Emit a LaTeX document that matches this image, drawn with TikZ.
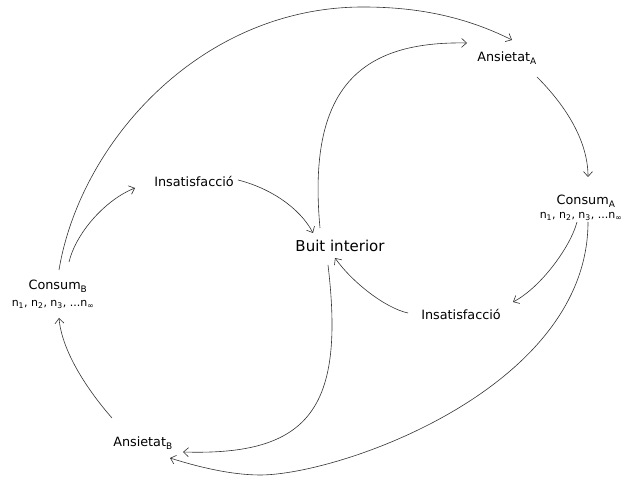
\documentclass[tikz,border=0pt]{standalone}
\usepackage{fontspec}
\setmainfont{DejaVu Sans}
\usetikzlibrary{arrows.meta}
\begin{document}
\begin{tikzpicture}[x=1pt,y=1pt,
  lbl/.style={anchor=base, inner sep=0pt, font=\fontsize{12.8}{15}\selectfont},
  nline/.style={anchor=base, inner sep=0pt, font=\fontsize{11}{13}\selectfont},
  big/.style={anchor=base, inner sep=0pt, font=\fontsize{15}{18}\selectfont},
  conn/.style={line width=0.6pt, draw=black!80, -{Straight Barb[length=5pt,width=9pt]}}]
\fill[white] (0,0) rectangle (626,478);
\useasboundingbox (0,0) rectangle (626,478);
% nodes
\node[lbl] (AA) at (507,416) {Ansietat\textsubscript{A}};
\node[lbl] (CA) at (586,273) {Consum\textsubscript{A}};
\node[nline] (CAn) at (581,259) {n\textsubscript{1}, n\textsubscript{2}, n\textsubscript{3}, ...n\textsubscript{∞}};
\node[lbl] (IR) at (461,158) {Insatisfacció};
\node[big] (BI) at (340,226) {Buit interior};
\node[lbl] (IL) at (194,291) {Insatisfacció};
\node[lbl] (CB) at (58,188) {Consum\textsubscript{B}};
\node[nline] (CBn) at (53,171) {n\textsubscript{1}, n\textsubscript{2}, n\textsubscript{3}, ...n\textsubscript{∞}};
\node[lbl] (AB) at (143,31) {Ansietat\textsubscript{B}};
\coordinate (topA) at (363,471);
\coordinate (botB) at (260,3);
% connectors
\draw[conn] ([shift={(1,20)}]CB.base) .. controls (80,335) and (200,471) .. (topA)
  .. controls (413,471) and (462,463) .. ([shift={(5,22)}]AA.base);
\draw[conn] ([shift={(-20,24)}]BI.base) .. controls (307,390) and (360,437) .. ([shift={(-40,19)}]AA.base);
\draw[conn] ([shift={(30,-15)}]AA.base) .. controls (567,371) and (588,336) .. ([shift={(2,28)}]CA.base);
\draw[conn] ([shift={(-4,-3)}]CAn.base) .. controls (570,230) and (540,190) .. ([shift={(52,18)}]IR.base);
\draw[conn] ([shift={(7,-3)}]CAn.base) .. controls (588,90) and (340,3) .. (botB)
  .. controls (230,3) and (195,12) .. ([shift={(27,-11)}]AB.base);
\draw[conn] ([shift={(-53,7)}]IR.base) .. controls (385,170) and (352,196) .. ([shift={(-5,-6)}]BI.base);
\draw[conn] ([shift={(-12,-13)}]BI.base) .. controls (345,70) and (310,22) .. ([shift={(40,-5)}]AB.base);
\draw[conn] ([shift={(-31,29)}]AB.base) .. controls (90,85) and (62,125) .. ([shift={(6,-11)}]CBn.base);
\draw[conn] ([shift={(11,28)}]CB.base) .. controls (76,245) and (105,278) .. ([shift={(-59,-1)}]IL.base);
\draw[conn] ([shift={(44,7)}]IL.base) .. controls (270,290) and (300,270) .. ([shift={(-27,19)}]BI.base);
\end{tikzpicture}
\end{document}
